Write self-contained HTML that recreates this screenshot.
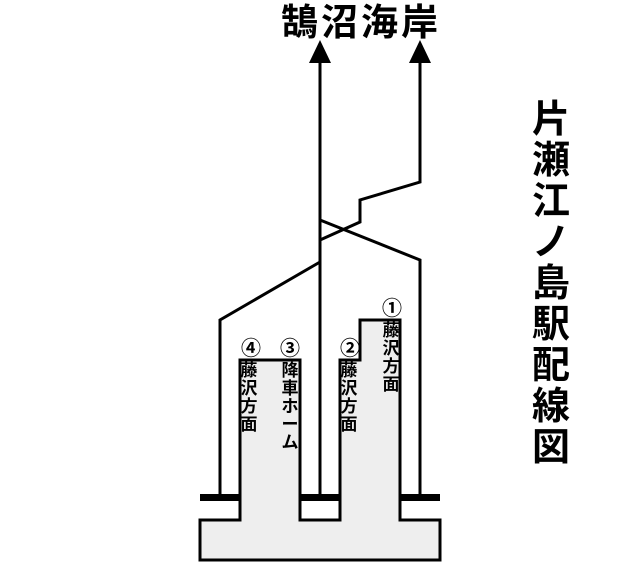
<!DOCTYPE html>
<html><head><meta charset="utf-8"><style>
body{margin:0;background:#fff;width:640px;height:580px;overflow:hidden;position:relative}
svg{position:absolute;left:0;top:0}
.t{font-family:"Liberation Sans","Noto Sans CJK JP",sans-serif;fill:#000;font-weight:bold}
</style></head><body>
<svg width="640" height="580" viewBox="0 0 640 580">
<g stroke="#000" stroke-width="3" fill="none">
<line x1="320" y1="55" x2="320" y2="497"/>
<polyline points="420,55 420,182 360,200 360,222 320,240"/>
<polyline points="320,220 420,260 420,497"/>
<polyline points="320,262 220,320 220,497"/>
</g>
<polygon points="320,40 309,63 331,63"/>
<polygon points="420,40 409,63 431,63"/>
<path d="M200,520 H240 V360 H300 V520 H340 V360 H360 V320 H400 V520 H440 V560 H200 Z" fill="#eee" stroke="#000" stroke-width="3"/>
<g fill="#000">
<rect x="200" y="494" width="40" height="7"/>
<rect x="300" y="494" width="40" height="7"/>
<rect x="400" y="494" width="40" height="7"/>
</g>
<text class="t" x="281" y="35" font-size="37" letter-spacing="3">鵠沼海岸</text>
<g class="t" font-size="38" text-anchor="middle">
<text x="551" y="132">片</text><text x="551" y="173">瀬</text><text x="551" y="214">江</text>
<text x="551" y="255">ノ</text><text x="551" y="296">島</text><text x="551" y="337">駅</text>
<text x="551" y="378">配</text><text x="551" y="419">線</text><text x="551" y="460">図</text>
</g>
<g class="t" font-size="17" text-anchor="middle">
<text x="251" y="355" font-size="20">④</text>
<text x="249" y="376">藤</text><text x="249" y="394">沢</text><text x="249" y="412">方</text><text x="249" y="430">面</text>
<text x="290" y="355" font-size="20">③</text>
<text x="290" y="376">降</text><text x="290" y="394">車</text><text x="290" y="412">ホ</text><text x="290" y="430">ー</text><text x="290" y="448">ム</text>
<text x="350" y="355" font-size="20">②</text>
<text x="349" y="376">藤</text><text x="349" y="394">沢</text><text x="349" y="412">方</text><text x="349" y="430">面</text>
<text x="392" y="315" font-size="20">①</text>
<text x="391" y="336">藤</text><text x="391" y="354">沢</text><text x="391" y="372">方</text><text x="391" y="390">面</text>
</g>
</svg>
</body></html>
